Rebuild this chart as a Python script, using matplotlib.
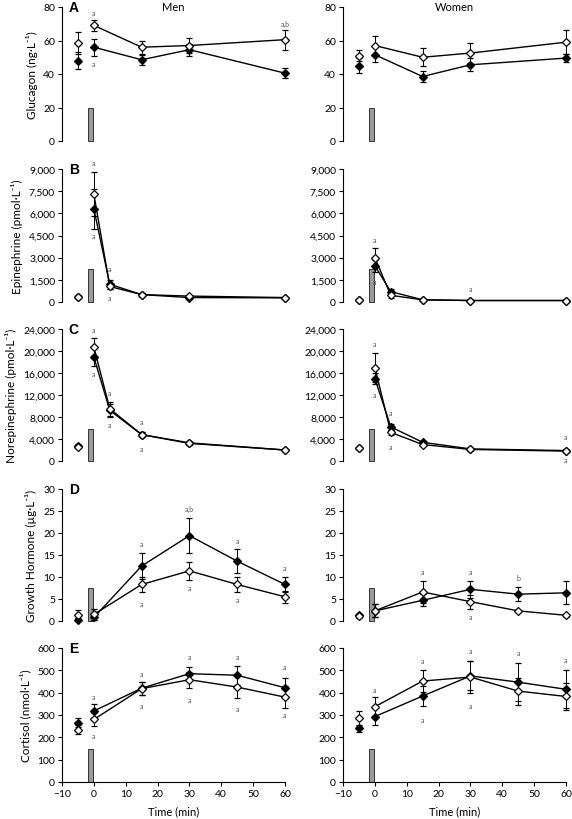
import matplotlib
matplotlib.use("Agg")
import matplotlib.pyplot as plt
from matplotlib.ticker import FuncFormatter

plt.rcParams["font.family"] = ["Lato", "DejaVu Sans"]

# sample times (min)
t_gluc = [-5, 0, 15, 30, 60]
t_cat = [-5, 0, 5, 15, 30, 60]
t_gh = [-5, 0, 15, 30, 45, 60]

# A: glucagon (ng/L)
gluc_men_open = [58.5, 69, 56, 57, 60.5]
gluc_men_open_se = [6.5, 3.5, 4, 4.5, 6]
gluc_men_fill = [48, 56, 48.5, 54.5, 40.5]
gluc_men_fill_se = [5, 5, 3, 3.5, 3]
gluc_women_open = [51, 57, 50, 52.5, 59]
gluc_women_open_se = [3.5, 5.5, 5.5, 6, 7]
gluc_women_fill = [45, 51.5, 38.5, 45.5, 49.5]
gluc_women_fill_se = [4.5, 4.5, 3, 4, 2.5]

# B: epinephrine (pmol/L)
epi_men_open = [350, 7300, 1050, 500, 400, 300]
epi_men_open_se = [100, 1500, 200, 80, 80, 60]
epi_men_fill = [350, 6300, 1200, 500, 300, 280]
epi_men_fill_se = [80, 1350, 300, 80, 60, 50]
epi_women_open = [150, 3000, 450, 150, 100, 100]
epi_women_open_se = [50, 650, 150, 50, 30, 30]
epi_women_fill = [150, 2450, 700, 150, 100, 100]
epi_women_fill_se = [50, 400, 200, 50, 30, 30]

# C: norepinephrine (pmol/L)
ne_men_open = [2600, 20700, 9500, 4800, 3200, 2000]
ne_men_open_se = [300, 1600, 1300, 400, 300, 200]
ne_men_fill = [2800, 18900, 9200, 4800, 3300, 2000]
ne_men_fill_se = [300, 1700, 1200, 400, 300, 200]
ne_women_open = [2400, 17000, 5200, 3000, 2100, 1800]
ne_women_open_se = [200, 2600, 500, 300, 200, 200]
ne_women_fill = [2400, 15000, 6200, 3400, 2200, 1900]
ne_women_fill_se = [200, 1000, 500, 300, 200, 200]

# D: growth hormone (ug/L)
gh_men_open = [1.3, 1.5, 8.3, 11.4, 8.3, 5.5]
gh_men_open_se = [1.3, 1.3, 1.8, 2.1, 1.8, 1.4]
gh_men_fill = [0.3, 0.8, 12.5, 19.4, 13.6, 8.3]
gh_men_fill_se = [0.3, 0.5, 3.0, 3.9, 2.7, 1.8]
gh_women_open = [1.2, 2.3, 6.6, 4.4, 2.3, 1.3]
gh_women_open_se = [0.5, 1.5, 2.6, 1.6, 0.3, 0.3]
gh_women_fill = [1.3, 2.3, 4.7, 7.2, 6.1, 6.4]
gh_women_fill_se = [0.4, 1.5, 1.4, 2.0, 1.6, 2.6]

# E: cortisol (nmol/L)
cort_men_open = [235, 280, 418, 458, 425, 380]
cort_men_open_se = [20, 30, 30, 35, 50, 50]
cort_men_fill = [265, 318, 420, 485, 478, 422]
cort_men_fill_se = [20, 30, 30, 30, 42, 42]
cort_women_open = [285, 337, 452, 470, 407, 383]
cort_women_open_se = [35, 43, 50, 70, 60, 60]
cort_women_fill = [240, 293, 385, 475, 447, 415]
cort_women_fill_se = [15, 40, 43, 65, 85, 85]

# sprint marker bar heights per panel
sprint_bar = [20, 2200, 5800, 7.5, 150]

# significance letters (time, y, text)
sig_men = [
    [(0, 77, "a"), (0, 46, "a"), (60, 70, "a,b")],
    [(0, 9450, "a"), (0, 4500, "a"), (5, 2300, "a"), (5, 300, "a")],
    [(0, 23900, "a"), (0, 15900, "a"), (5, 12500, "a"), (5, 6700, "a"),
     (15, 7150, "a"), (15, 2300, "a")],
    [(15, 17.5, "a"), (15, 3.9, "a"), (30, 25.5, "a,b"), (30, 7.6, "a"),
     (45, 18.3, "a"), (45, 4.8, "a"), (60, 12.2, "a")],
    [(0, 385, "a"), (0, 209, "a"), (15, 488, "a"), (15, 343, "a"),
     (30, 564, "a"), (30, 369, "a"), (45, 564, "a"), (45, 328, "a"),
     (60, 515, "a"), (60, 301, "a")],
]
sig_women = [
    [],
    [(0, 4250, "a"), (0, 1420, "a"), (30, 930, "a")],
    [(0, 21400, "a"), (0, 12000, "a"), (5, 8900, "a"), (5, 2600, "a"),
     (60, 4400, "a"), (60, 300, "a")],
    [(15, 11.25, "a"), (30, 11.25, "a"), (30, 1.1, "a"), (45, 9.9, "b")],
    [(0, 412, "a"), (15, 545, "a"), (15, 282, "a"), (30, 590, "a"),
     (30, 342, "a"), (45, 579, "a"), (60, 549, "a")],
]

ylabels = ["Glucagon (ng·L⁻¹)", "Epinephrine (pmol·L⁻¹)",
           "Norepinephrine (pmol·L⁻¹)", "Growth Hormone (µg·L⁻¹)",
           "Cortisol (nmol·L⁻¹)"]
letters = ["A", "B", "C", "D", "E"]
ylims = [(0, 80), (0, 9000), (0, 24000), (0, 30), (0, 600)]
ysteps = [20, 1500, 4000, 5, 100]

panels = [
    (t_gluc, gluc_men_open, gluc_men_open_se, gluc_men_fill, gluc_men_fill_se,
     gluc_women_open, gluc_women_open_se, gluc_women_fill, gluc_women_fill_se),
    (t_cat, epi_men_open, epi_men_open_se, epi_men_fill, epi_men_fill_se,
     epi_women_open, epi_women_open_se, epi_women_fill, epi_women_fill_se),
    (t_cat, ne_men_open, ne_men_open_se, ne_men_fill, ne_men_fill_se,
     ne_women_open, ne_women_open_se, ne_women_fill, ne_women_fill_se),
    (t_gh, gh_men_open, gh_men_open_se, gh_men_fill, gh_men_fill_se,
     gh_women_open, gh_women_open_se, gh_women_fill, gh_women_fill_se),
    (t_gh, cort_men_open, cort_men_open_se, cort_men_fill, cort_men_fill_se,
     cort_women_open, cort_women_open_se, cort_women_fill, cort_women_fill_se),
]

W, H = 572, 820
fig = plt.figure(figsize=(W / 100, H / 100), dpi=100)

# axes extents in pixels (top, bottom) per row, (left, right) per column
rows_px = [(8, 142), (170, 303), (330, 462), (490, 622), (649, 783)]
cols_px = [(62, 285), (343, 566)]

FS = 7.5


def draw_series(ax, t, y, se, filled):
    fc = "black" if filled else "white"
    z = 3 if filled else 4
    # pre value, not connected
    ax.errorbar(t[:1], y[:1], yerr=se[:1], fmt="D", ms=4.5, mfc=fc,
                mec="black", mew=0.9, ecolor="black", elinewidth=0.7,
                capsize=2, capthick=0.7, zorder=z)
    ax.errorbar(t[1:], y[1:], yerr=se[1:], fmt="-D", ms=4.5, mfc=fc,
                mec="black", mew=0.9, color="black", lw=1.0,
                ecolor="black", elinewidth=0.7, capsize=2, capthick=0.7,
                zorder=z)


for r in range(5):
    t = panels[r][0]
    top, bot = rows_px[r]
    for c in range(2):
        left, right = cols_px[c]
        ax = fig.add_axes([left / W, 1 - bot / H, (right - left) / W,
                           (bot - top) / H])
        if c == 0:
            y_o, se_o, y_f, se_f = panels[r][1:5]
            sig = sig_men[r]
        else:
            y_o, se_o, y_f, se_f = panels[r][5:9]
            sig = sig_women[r]

        ax.bar(-1.0, sprint_bar[r], width=1.5, color="#9a9a9a",
               edgecolor="#333333", linewidth=0.7, zorder=2)
        draw_series(ax, t, y_f, se_f, True)
        draw_series(ax, t, y_o, se_o, False)

        for tx, ty, s in sig:
            ax.text(tx, ty, s, ha="center", va="center", fontsize=5,
                    color="#555555")

        ax.set_xlim(-10, 60)
        ax.set_ylim(*ylims[r])
        lo, hi = ylims[r]
        ax.set_yticks(range(lo, hi + 1, ysteps[r]))
        if hi >= 1000:
            ax.yaxis.set_major_formatter(FuncFormatter(lambda v, p: f"{int(v):,}"))
        ax.tick_params(axis="y", labelsize=FS, length=3, width=0.8, pad=2)
        for s in ["top", "right"]:
            ax.spines[s].set_visible(False)
        ax.spines["left"].set_linewidth(0.8)
        ax.patch.set_alpha(0)

        if r == 4:
            ax.set_xticks(range(-10, 61, 10))
            ax.tick_params(axis="x", labelsize=FS, length=3, width=0.8, pad=2)
            ax.spines["bottom"].set_linewidth(0.8)
            ax.set_xlabel("Time (min)", fontsize=8, labelpad=5)
        else:
            ax.spines["bottom"].set_visible(False)
            ax.set_xticks([])

        if c == 0:
            ax.set_ylabel(ylabels[r], fontsize=8.5, labelpad=4)
            ax.text(0.03, 1.0, letters[r], transform=ax.transAxes,
                    ha="left", va="center", fontsize=10, fontweight="bold",
                    family=["Liberation Sans", "DejaVu Sans"])
        if r == 0:
            ax.text(0.5, 1.0, "Men" if c == 0 else "Women",
                    transform=ax.transAxes, ha="center", va="center",
                    fontsize=8)
        for child in ax.get_children():
            try:
                child.set_clip_on(False)
            except Exception:
                pass

fig.savefig("out.png", dpi=100)
